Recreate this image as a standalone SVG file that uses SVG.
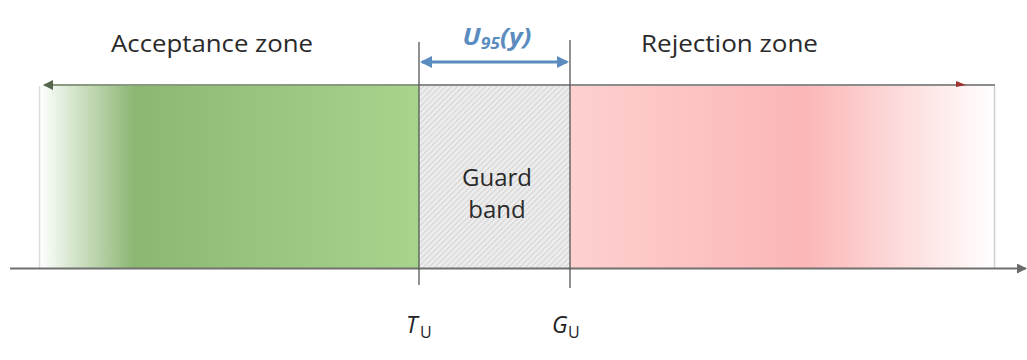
<svg xmlns="http://www.w3.org/2000/svg" width="1027" height="360" viewBox="0 0 1027 360">
<defs>
<linearGradient id="gGreen" x1="39" y1="0" x2="419" y2="0" gradientUnits="userSpaceOnUse">
<stop offset="0" stop-color="#ffffff"/>
<stop offset="0.25" stop-color="#8cb773"/>
<stop offset="1" stop-color="#a7d58c"/>
</linearGradient>
<linearGradient id="gRed" x1="570" y1="0" x2="995" y2="0" gradientUnits="userSpaceOnUse">
<stop offset="0" stop-color="#fed0d0"/>
<stop offset="0.55" stop-color="#fbb6b6"/>
<stop offset="1" stop-color="#ffffff"/>
</linearGradient>
<pattern id="hatch" width="4" height="4" patternUnits="userSpaceOnUse" patternTransform="rotate(45)">
<rect width="4" height="4" fill="#ececec"/>
<line x1="0" y1="0" x2="0" y2="4" stroke="#c4c4c4" stroke-width="1.2"/>
</pattern>
<marker id="arrGray" markerWidth="10" markerHeight="10" refX="9" refY="5" orient="auto" markerUnits="userSpaceOnUse">
<path d="M0,0 L10,5 L0,10 Z" fill="#6a6a6a"/>
</marker>
<marker id="arrBlue" markerWidth="12" markerHeight="12" refX="10" refY="6" orient="auto-start-reverse" markerUnits="userSpaceOnUse">
<path d="M0,0 L12,6 L0,12 Z" fill="#5b8cc0"/>
</marker>
<marker id="arrDarkL" markerWidth="10" markerHeight="10" refX="1" refY="5" orient="auto" markerUnits="userSpaceOnUse">
<path d="M10,0 L0,5 L10,10 Z" fill="#56664d"/>
</marker>
</defs>
<style>
.lbl{font-family:"Open Sans","Liberation Sans",sans-serif;font-size:24px;fill:#2a2a2a}
.sym{font-family:"Open Sans","Liberation Sans",sans-serif;font-size:23px;fill:#222;font-style:italic}
.sub{font-family:"Open Sans","Liberation Sans",sans-serif;font-size:16px;fill:#222}
.vline{stroke:#555;stroke-width:1.3}
</style>
<rect width="1027" height="360" fill="#ffffff"/>
<g id="acceptance">
<rect x="39" y="85" width="380" height="183" fill="url(#gGreen)"/>
<line x1="39.5" y1="86" x2="39.5" y2="268" stroke="#dcdcdc" stroke-width="1.5"/>
<text class="lbl" x="111" y="52" textLength="202" lengthAdjust="spacingAndGlyphs">Acceptance zone</text>
</g>
<g id="guardband">
<rect x="419" y="85" width="151" height="183" fill="url(#hatch)"/>
<text class="lbl" x="497" y="186" text-anchor="middle">Guard</text>
<text class="lbl" x="497" y="218" text-anchor="middle">band</text>
</g>
<g id="rejection">
<rect x="570" y="85" width="425" height="183" fill="url(#gRed)"/>
<line x1="994.5" y1="86" x2="994.5" y2="268" stroke="#cfcfcf" stroke-width="1.5"/>
<text class="lbl" x="641" y="52" textLength="177" lengthAdjust="spacingAndGlyphs">Rejection zone</text>
</g>
<g id="uncertainty">
<text x="497" y="45" text-anchor="middle" font-family="'Open Sans','Liberation Sans',sans-serif" font-size="24" font-weight="bold" font-style="italic" fill="#5b8cc0" textLength="69" lengthAdjust="spacingAndGlyphs">U<tspan font-size="16" dy="4">95</tspan><tspan dy="-4">(y)</tspan></text>
</g>
<g id="labels">
<text class="sym" x="406" y="333">T</text><text class="sub" x="420" y="338">U</text>
<text class="sym" x="552" y="333">G</text><text class="sub" x="568" y="338">U</text>
</g>
<g id="connectors">
<line x1="44" y1="85" x2="995" y2="85" stroke="#8c8c8c" stroke-width="2"/>
<line x1="44" y1="85" x2="420" y2="85" stroke="#8a9a80" stroke-width="2" marker-start="url(#arrDarkL)"/>
<path d="M956,81 L966,85 L956,87 Z" fill="#a03030"/>
<line x1="10" y1="268.5" x2="1026" y2="268.5" stroke="#707070" stroke-width="2" marker-end="url(#arrGray)"/>
<line class="vline" x1="419" y1="42" x2="419" y2="285"/>
<line class="vline" x1="570" y1="40" x2="570" y2="288"/>
<line x1="422" y1="62" x2="567" y2="62" stroke="#5b8cc0" stroke-width="3" marker-start="url(#arrBlue)" marker-end="url(#arrBlue)"/>
</g>
</svg>
